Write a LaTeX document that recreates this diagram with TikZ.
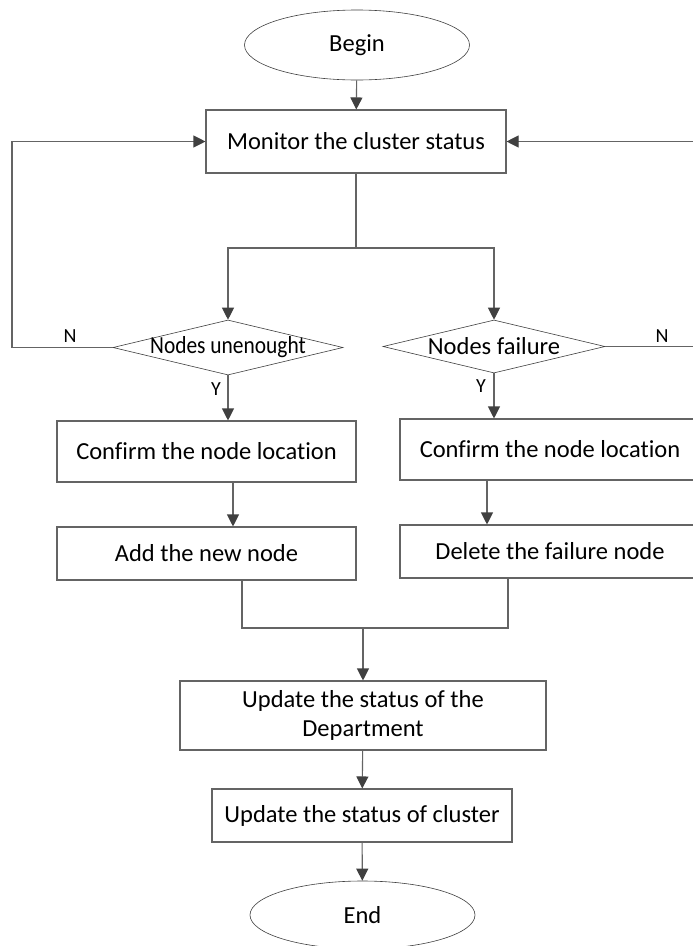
\documentclass[tikz,border=0pt]{standalone}
\usepackage{fontspec}
\setmainfont{Carlito}[Ligatures=NoCommon]
\usetikzlibrary{shapes.geometric,arrows.meta}
\definecolor{linec}{RGB}{100,100,100}
\definecolor{headc}{RGB}{64,64,64}
\begin{document}
\begin{tikzpicture}[x=1pt,y=-1pt,
  every node/.style={font=\fontsize{24.5}{29}\selectfont, inner sep=0pt},
  box/.style={draw=linec, line width=1.1pt, rectangle, minimum width=#1},
  oval/.style={draw=black!75, line width=0.6pt, ellipse},
  dia/.style={draw=black!75, line width=0.6pt, diamond},
  lbl/.style={font=\fontsize{20}{24}\selectfont},
  conn/.style={draw=linec, line width=1.1pt},
  arr/.style={conn, -{Triangle[length=12pt,width=12pt,fill=headc,color=headc]}}
]
\clip (0,0) rectangle (693,946);
\fill[white] (0,0) rectangle (693,946);

\node[oval, minimum width=225, minimum height=70] (begin) at (357,45) {Begin};
\node[box=300, minimum height=63] (monitor) at (356,141.5) {Monitor the cluster status};
\node[dia, minimum width=230, minimum height=55, aspect=4.2,
      label={center:\scalebox{0.875}[1]{Nodes unenought}}] (d1) at (228,347.5) {};
\node[dia, minimum width=222, minimum height=53, aspect=4.2,
      label={center:Nodes failure}] (d2) at (494,346.5) {};
\node[box=299, minimum height=61] (confL) at (206.5,451.5) {Confirm the node location};
\node[box=299, minimum height=53] (addL) at (206.5,553.5) {Add the new node};
\node[box=300, minimum height=61] (confR) at (550,449.5) {Confirm the node location};
\node[box=300, minimum height=53] (delR) at (550,551.5) {Delete the failure node};
\node[box=366, minimum height=69, align=center] (upd1) at (363,715.5) {Update the status of the\\Department};
\node[box=300, minimum height=53] (upd2) at (362,815.5) {Update the status of cluster};
\node[oval, minimum width=225, minimum height=68] (end) at (362.5,915) {End};

\node[lbl] (nL) at (70,336) {N};
\node[lbl] (nR) at (662,336) {N};
\node[lbl] (yL) at (216,389) {Y};
\node[lbl] (yR) at (481,386) {Y};

\coordinate (split) at (356,248);
\coordinate (lcorner) at (12,347.5);
\coordinate (rcorner) at (697,346.5);
\coordinate (merge) at (363,628);

\draw[arr] (begin) -- (monitor);
\draw[conn] (monitor.south) -- (split);
\draw[arr] (split) -| (d1.north);
\draw[arr] (split) -| (d2.north);
\draw[arr] (d1.west) -- (lcorner) |- (monitor.west);
\draw[arr] (d2.east) -- (rcorner) |- (monitor.east);
\draw[arr] (d1.south) -- (d1.south |- confL.north);
\draw[arr] (d2.south) -- (d2.south |- confR.north);
\draw[arr] ([xshift=26.5pt]confL.south) -- ([xshift=26.5pt]addL.north);
\draw[arr] ([xshift=-63pt]confR.south) -- ([xshift=-63pt]delR.north);
\draw[conn] ([xshift=35.5pt]addL.south) |- (merge) -| ([xshift=-42pt]delR.south);
\draw[arr] (merge) -- (upd1.north);
\draw[arr] (upd1) -- (upd2);
\draw[arr] (upd2) -- (end);
\end{tikzpicture}
\end{document}
